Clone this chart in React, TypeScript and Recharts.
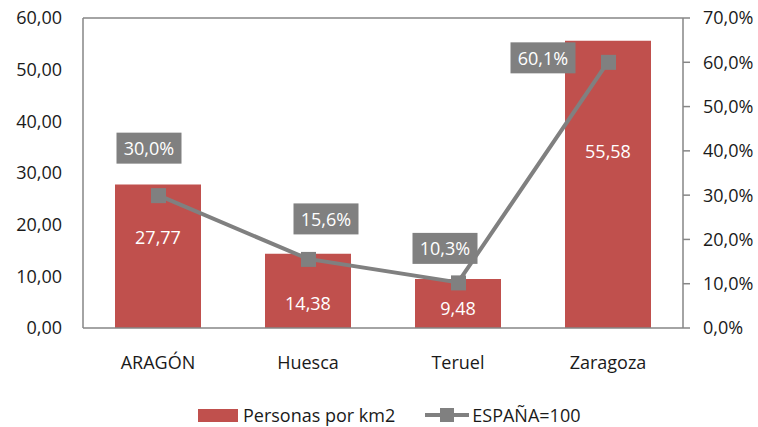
import React from 'react'
import {
  ComposedChart,
  Bar,
  Line,
  XAxis,
  YAxis,
  ReferenceLine,
  LabelList,
} from 'recharts'

const CATEGORIES = ['ARAGÓN', 'Huesca', 'Teruel', 'Zaragoza']
const DENSIDAD = [27.77, 14.38, 9.48, 55.58]
const ESPANA_PCT = [30.0, 15.6, 10.3, 60.1]
const LEFT_TICKS = [0, 10, 20, 30, 40, 50, 60]
const RIGHT_TICKS = [0, 10, 20, 30, 40, 50, 60, 70]

const data = CATEGORIES.map((name, i) => ({
  name,
  densidad: DENSIDAD[i],
  espana: ESPANA_PCT[i],
}))

const FONT = '"Open Sans", sans-serif'
const BAR_COLOR = '#C0504D'
const LINE_COLOR = '#808080'
const AXIS_COLOR = '#868686'
const TEXT_COLOR = '#1a1a1a'

// manual label placement, like the hand-moved labels in the original
const LINE_LABEL_OFFSET = [
  { dx: -9, dy: -47 },
  { dx: 18, dy: -40 },
  { dx: -13, dy: -34 },
  { dx: -65, dy: -4 },
]
const BAR_LABEL_DY = [-19, 12, 4, -33]

const fmtLeft = (v: number) => v.toFixed(2).replace('.', ',')
const fmtPct = (v: number) => `${v.toFixed(1).replace('.', ',')}%`

function SquareDot(props: any) {
  const { cx, cy } = props
  if (cx == null || cy == null) return null
  return <rect x={cx - 7} y={cy - 7} width={15} height={15} fill={LINE_COLOR} />
}

function LineLabel(props: any) {
  const { x, y, value, index } = props
  const off = LINE_LABEL_OFFSET[index] || { dx: 0, dy: -40 }
  const cx = x + off.dx
  const cy = y + off.dy
  const w = 65
  const h = 31
  return (
    <g>
      <rect x={cx - w / 2} y={cy - h / 2} width={w} height={h} fill={LINE_COLOR} />
      <text
        x={cx}
        y={cy}
        textAnchor="middle"
        dominantBaseline="central"
        fill="#ffffff"
        fontSize={18}
        fontFamily={FONT}
      >
        {fmtPct(Number(value))}
      </text>
    </g>
  )
}

function BarLabel(props: any) {
  const { x, y, width, height, value, index } = props
  return (
    <text
      x={x + width / 2}
      y={y + height / 2 + (BAR_LABEL_DY[index] || 0)}
      textAnchor="middle"
      dominantBaseline="central"
      fill="#ffffff"
      fontSize={18}
      fontFamily={FONT}
    >
      {fmtLeft(Number(value))}
    </text>
  )
}

export default function App() {
  return (
    <div
      style={{
        position: 'absolute',
        left: 0,
        top: 0,
        width: 758,
        height: 427,
        background: '#ffffff',
        fontFamily: FONT,
      }}
    >
      <ComposedChart
        width={758}
        height={427}
        data={data}
        margin={{ top: 18, right: 0, left: 13, bottom: 59 }}
      >
        <XAxis
          dataKey="name"
          height={40}
          axisLine={{ stroke: AXIS_COLOR, strokeWidth: 1.5 }}
          tickLine={false}
          tickSize={0}
          tickMargin={28}
          tick={{ fontSize: 18, fill: TEXT_COLOR, fontFamily: FONT }}
        />
        <YAxis
          yAxisId="left"
          width={70}
          domain={[0, 60]}
          ticks={LEFT_TICKS}
          tickFormatter={fmtLeft}
          axisLine={{ stroke: AXIS_COLOR, strokeWidth: 1.5 }}
          tickLine={false}
          tickSize={0}
          tickMargin={21}
          tick={{ fontSize: 18, fill: TEXT_COLOR, fontFamily: FONT }}
        />
        <YAxis
          yAxisId="right"
          orientation="right"
          width={75}
          domain={[0, 70]}
          ticks={RIGHT_TICKS}
          tickFormatter={fmtPct}
          axisLine={{ stroke: AXIS_COLOR, strokeWidth: 1.5 }}
          tickLine={{ stroke: AXIS_COLOR, strokeWidth: 1.5 }}
          tickSize={7}
          tickMargin={13}
          tick={{ fontSize: 18, fill: TEXT_COLOR, fontFamily: FONT }}
        />
        <ReferenceLine yAxisId="left" y={60} stroke={AXIS_COLOR} strokeWidth={1.5} />
        <Bar
          yAxisId="left"
          dataKey="densidad"
          fill={BAR_COLOR}
          barSize={86}
          isAnimationActive={false}
        >
          <LabelList dataKey="densidad" content={BarLabel} />
        </Bar>
        <Line
          yAxisId="right"
          dataKey="espana"
          type="linear"
          stroke={LINE_COLOR}
          strokeWidth={4}
          dot={<SquareDot />}
          activeDot={false}
          isAnimationActive={false}
        >
          <LabelList dataKey="espana" content={LineLabel} />
        </Line>
      </ComposedChart>

      {/* Legend */}
      <div
        style={{
          position: 'absolute',
          top: 403,
          left: 198,
          display: 'flex',
          alignItems: 'center',
          fontSize: 18,
          color: TEXT_COLOR,
          whiteSpace: 'nowrap',
        }}
      >
        <span style={{ display: 'inline-block', width: 40, height: 13, background: BAR_COLOR }} />
        <span style={{ marginLeft: 5 }}>Personas por km2</span>
        <svg width={44} height={20} style={{ marginLeft: 30 }}>
          <line x1={0} y1={10} x2={44} y2={10} stroke={LINE_COLOR} strokeWidth={4} />
          <rect x={15} y={3} width={14} height={14} fill={LINE_COLOR} />
        </svg>
        <span style={{ marginLeft: 3 }}>ESPAÑA=100</span>
      </div>
    </div>
  )
}
